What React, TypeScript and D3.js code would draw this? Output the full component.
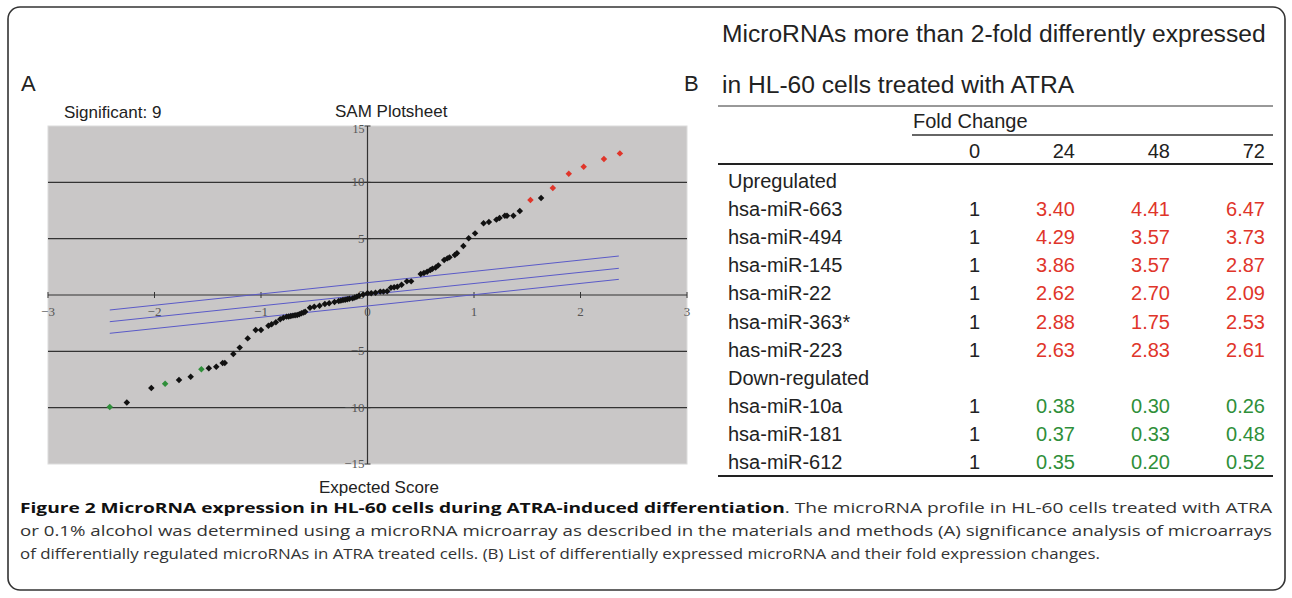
import React from "react";
import * as d3 from "d3";

// SAM plot: expected score (x) vs observed score (y)
const nsExpected = [1.63, 1.43, 1.37, 1.31, 1.29, 1.24, 1.21, 1.14, 1.09, 1.01, 0.95, 0.9, 0.84, 0.82, 0.77, 0.75, 0.72, 0.665, 0.64, 0.61, 0.59, 0.56, 0.53, 0.5, 0.41, 0.37, 0.32, 0.28, 0.25, 0.22, 0.185, 0.15, 0.12, 0.075, 0.035, 0.0, -0.04, -0.08, -0.1, -0.12, -0.14, -0.17, -0.19, -0.21, -0.23, -0.25, -0.27, -0.31, -0.36, -0.4, -0.45, -0.5, -0.54, -0.585, -0.6, -0.62, -0.64, -0.66, -0.68, -0.7, -0.72, -0.74, -0.76, -0.79, -0.82, -0.86, -0.9, -0.93, -1.0, -1.05, -1.125, -1.2, -1.26, -1.34, -1.36, -1.42, -1.49, -1.66, -1.77, -2.03, -2.26];
const nsObserved = [8.61, 7.45, 7.04, 7.04, 7.04, 6.83, 6.69, 6.48, 6.36, 5.47, 5.03, 4.35, 3.7, 3.55, 3.34, 3.25, 3.1, 2.63, 2.45, 2.34, 2.22, 2.07, 1.95, 1.86, 1.21, 1.21, 0.92, 0.74, 0.68, 0.65, 0.33, 0.3, 0.3, 0.2, 0.15, 0.15, 0.04, -0.06, -0.15, -0.22, -0.3, -0.34, -0.38, -0.42, -0.44, -0.5, -0.53, -0.62, -0.74, -0.8, -0.95, -1.04, -1.13, -1.48, -1.55, -1.63, -1.7, -1.77, -1.8, -1.83, -1.86, -1.9, -1.92, -2.01, -2.16, -2.42, -2.6, -2.72, -3.11, -3.11, -3.85, -4.67, -5.24, -6.03, -6.03, -6.36, -6.51, -7.25, -7.54, -8.25, -9.55];
const upExpected = [2.37, 2.22, 2.03, 1.89, 1.74, 1.53];
const upObserved = [12.57, 12.07, 11.39, 10.77, 9.49, 8.43];
const downExpected = [-1.56, -1.9, -2.42];
const downObserved = [-6.6, -7.87, -9.94];

// delta threshold lines (start / end observed values over bandRange)
const bandRange = [-2.42, 2.36];
const upperBand = [-1.33, 3.46];
const middleBand = [-2.37, 2.37];
const lowerBand = [-3.4, 1.39];

const xTicks = [-3, -2, -1, 0, 1, 2, 3];
const yTicks = [-15, -10, -5, 0, 5, 10, 15];
const gridValues = [-10, -5, 5, 10];

// Table B
const hours = ["0", "24", "48", "72"];
const upNames = ["hsa-miR-663", "hsa-miR-494", "hsa-miR-145", "hsa-miR-22", "hsa-miR-363*", "has-miR-223"];
const downNames = ["hsa-miR-10a", "hsa-miR-181", "hsa-miR-612"];
const fold0 = [1, 1, 1, 1, 1, 1, 1, 1, 1];
const fold24 = [3.4, 4.29, 3.86, 2.62, 2.88, 2.63, 0.38, 0.37, 0.35];
const fold48 = [4.41, 3.57, 3.57, 2.7, 1.75, 2.83, 0.3, 0.33, 0.2];
const fold72 = [6.47, 3.73, 2.87, 2.09, 2.53, 2.61, 0.26, 0.48, 0.52];

const SANS = "'Liberation Sans', Arial, sans-serif";
const RED = "#e0352a";
const GREEN = "#2f8f3a";

export default function App() {
  const x = d3.scaleLinear().domain([-3, 3]).range([48, 687]);
  const y = d3.scaleLinear().domain([-15, 15]).range([464, 126]);
  const diamond = d3.symbol(d3.symbolSquare, 21)();
  const bandLine = d3.line<[number, number]>().x((d) => x(d[0])).y((d) => y(d[1]));

  const pts = (xs: number[], ys: number[]) => xs.map((v, i) => [v, ys[i]] as [number, number]);

  const rowKeys = ["Upregulated", ...upNames, "Down-regulated", ...downNames];
  const rowY = d3.scalePoint().domain(rowKeys).range([188, 469]);
  const colX = d3.scalePoint().domain(hours).range([980, 1265]);
  const folds = [fold0, fold24, fold48, fold72];
  const names = [...upNames, ...downNames];
  const fmt = (t: number) => (t < 0 ? "\u2212" + Math.abs(t) : String(t));

  return (
    <svg width={1292} height={598} style={{ position: "absolute", left: 0, top: 0, background: "#fff" }}>
      <rect x={8} y={7} width={1277} height={583} rx={12} fill="none" stroke="#333" strokeWidth={1.6} />

      {/* Panel A */}
      <text x={21} y={91} fontFamily={SANS} fontSize={22} fill="#222">A</text>
      <text x={64} y={118} fontFamily={SANS} fontSize={17} fill="#222">Significant: 9</text>
      <text x={335} y={117} fontFamily={SANS} fontSize={17} fill="#222">SAM Plotsheet</text>
      <rect x={x(-3)} y={y(15)} width={x(3) - x(-3)} height={y(-15) - y(15)} fill="#c9c7c7" stroke="#dcdcdc" />
      {gridValues.map((g) => (
        <line key={g} x1={x(-3)} x2={x(3)} y1={y(g)} y2={y(g)} stroke="#333" strokeWidth={1.2} />
      ))}
      <line x1={x(-3)} x2={x(3)} y1={y(0)} y2={y(0)} stroke="#333" strokeWidth={1.2} />
      <line x1={x(0)} x2={x(0)} y1={y(15)} y2={y(-15)} stroke="#333" strokeWidth={1.2} />
      {xTicks.map((t) => (
        <g key={t}>
          <line x1={x(t)} x2={x(t)} y1={y(0) - 3} y2={y(0) + 3} stroke="#333" />
          <text x={x(t)} y={y(0) + 21} textAnchor="middle" fontFamily="'Liberation Serif', serif" fontSize={13} fill="#555">
            {fmt(t)}
          </text>
        </g>
      ))}
      {yTicks.map((t) => (
        <g key={t}>
          <line x1={x(0) - 3} x2={x(0) + 3} y1={y(t)} y2={y(t)} stroke="#333" />
          <text x={x(0) - 3} y={y(t) + (t === 15 ? 7 : 4)} textAnchor="end" fontFamily="'Liberation Serif', serif"
            fontSize={t === 15 ? 12 : 13} fill="#555">
            {fmt(t)}
          </text>
        </g>
      ))}
      {[upperBand, middleBand, lowerBand].map((b, i) => (
        <path key={i} d={bandLine([[bandRange[0], b[0]], [bandRange[1], b[1]]]) || ""} fill="none" stroke="#5a5ac8" strokeWidth={1} />
      ))}
      {pts(nsExpected, nsObserved).map((p, i) => (
        <path key={"n" + i} d={diamond || ""} transform={`translate(${x(p[0])},${y(p[1])}) rotate(45)`} fill="#111" />
      ))}
      {pts(upExpected, upObserved).map((p, i) => (
        <path key={"u" + i} d={diamond || ""} transform={`translate(${x(p[0])},${y(p[1])}) rotate(45)`} fill={RED} />
      ))}
      {pts(downExpected, downObserved).map((p, i) => (
        <path key={"d" + i} d={diamond || ""} transform={`translate(${x(p[0])},${y(p[1])}) rotate(45)`} fill={GREEN} />
      ))}
      <text x={379} y={493} textAnchor="middle" fontFamily={SANS} fontSize={17} fill="#222">Expected Score</text>

      {/* Panel B */}
      <text x={684} y={91} fontFamily={SANS} fontSize={22} fill="#222">B</text>
      <text x={722} y={42} fontFamily={SANS} fontSize={24.6} fill="#222">MicroRNAs more than 2-fold differently expressed</text>
      <text x={722} y={93} fontFamily={SANS} fontSize={24.6} fill="#222">in HL-60 cells treated with ATRA</text>
      <line x1={718} x2={1273} y1={106} y2={106} stroke="#333" strokeWidth={1} />
      <text x={913} y={128} fontFamily={SANS} fontSize={20} fill="#222">Fold Change</text>
      <line x1={912} x2={1273} y1={135} y2={135} stroke="#333" strokeWidth={1.5} />
      {hours.map((h) => (
        <text key={h} x={colX(h)} y={158} textAnchor="end" fontFamily={SANS} fontSize={20} fill="#222">{h}</text>
      ))}
      <line x1={718} x2={1273} y1={164} y2={164} stroke="#222" strokeWidth={2} />
      <text x={728} y={rowY("Upregulated")} fontFamily={SANS} fontSize={20} fill="#222">Upregulated</text>
      <text x={728} y={rowY("Down-regulated")} fontFamily={SANS} fontSize={20} fill="#222">Down-regulated</text>
      {names.map((n, i) => (
        <g key={n}>
          <text x={728} y={rowY(n)} fontFamily={SANS} fontSize={20} fill="#222">{n}</text>
          {hours.map((h, j) => (
            <text key={h} x={colX(h)} y={rowY(n)} textAnchor="end" fontFamily={SANS} fontSize={20}
              fill={j === 0 ? "#222" : i < upNames.length ? RED : GREEN}>
              {j === 0 ? String(folds[j][i]) : folds[j][i].toFixed(2)}
            </text>
          ))}
        </g>
      ))}
      <line x1={718} x2={1273} y1={476} y2={476} stroke="#222" strokeWidth={2} />

      {/* Caption */}
      <g fontFamily="'Open Sans', 'Noto Sans', sans-serif" fontSize={15} fill="#333">
        <text x={20} y={513} textLength={1252} lengthAdjust="spacingAndGlyphs">
          <tspan fontWeight="bold" fill="#111">Figure 2 MicroRNA expression in HL-60 cells during ATRA-induced differentiation</tspan>
          <tspan>. The microRNA profile in HL-60 cells treated with ATRA</tspan>
        </text>
        <text x={20} y={536} textLength={1252} lengthAdjust="spacingAndGlyphs">
          or 0.1% alcohol was determined using a microRNA microarray as described in the materials and methods (A) significance analysis of microarrays
        </text>
        <text x={20} y={559} textLength={1080} lengthAdjust="spacingAndGlyphs">
          of differentially regulated microRNAs in ATRA treated cells. (B) List of differentially expressed microRNA and their fold expression changes.
        </text>
      </g>
    </svg>
  );
}
